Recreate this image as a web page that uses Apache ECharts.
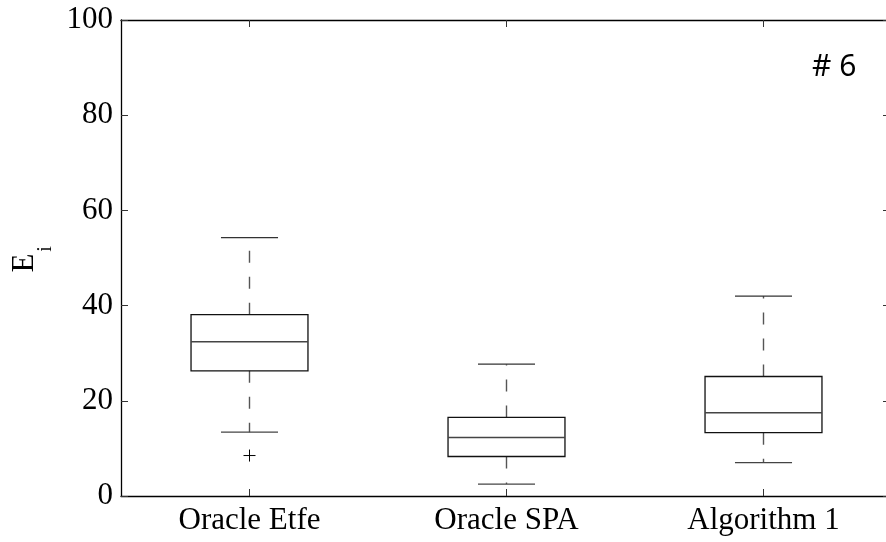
<!DOCTYPE html>
<html>
<head>
<meta charset="utf-8">
<script src="https://cdn.jsdelivr.net/npm/echarts@6/dist/echarts.min.js"></script>
<style>html,body{margin:0;padding:0;background:#fff;overflow:hidden;width:886px;height:542px;}#c{width:900px;height:542px;}</style>
</head>
<body>
<div id="c"></div>
<script>
const categories = ['Oracle Etfe', 'Oracle SPA', 'Algorithm 1'];
const lowerWhisker = [13.4, 2.5, 7.0];
const q1 = [26.3, 8.3, 13.3];
const median = [32.4, 12.3, 17.5];
const q3 = [38.1, 16.5, 25.1];
const upperWhisker = [54.3, 27.7, 42.0];
const outliers = [[0, 8.5]];
const yMin = 0, yMax = 100, yInterval = 20;

const boxData = categories.map((c, i) => [i, lowerWhisker[i], q1[i], median[i], q3[i], upperWhisker[i]]);

const chart = echarts.init(document.getElementById('c'), null, {renderer: 'canvas', width: 900, height: 542});
const serif = 'Liberation Serif';

function renderBox(params, api) {
  const i = api.value(0);
  const band = api.size([1, 0])[0];
  const half = band * 0.2275;
  const capHalf = band * 0.111;
  const pLw = api.coord([i, api.value(1)]);
  const pQ1 = api.coord([i, api.value(2)]);
  const pMed = api.coord([i, api.value(3)]);
  const pQ3 = api.coord([i, api.value(4)]);
  const pUw = api.coord([i, api.value(5)]);
  const cx = Math.floor(pMed[0]) + 0.5;
  const wStyle = {stroke: '#555', lineWidth: 1.4, lineDash: [12, 14]};
  return {
    type: 'group',
    children: [
      {type: 'line', shape: {x1: cx, y1: pQ3[1], x2: cx, y2: pUw[1]}, style: wStyle},
      {type: 'line', shape: {x1: cx, y1: pQ1[1], x2: cx, y2: pLw[1]}, style: wStyle},
      {type: 'line', shape: {x1: cx - capHalf, y1: pUw[1], x2: cx + capHalf, y2: pUw[1]}, style: {stroke: '#333', lineWidth: 1.3}},
      {type: 'line', shape: {x1: cx - capHalf, y1: pLw[1], x2: cx + capHalf, y2: pLw[1]}, style: {stroke: '#444', lineWidth: 1.3}},
      {type: 'rect', shape: {x: cx - half, y: pQ3[1], width: 2 * half, height: pQ1[1] - pQ3[1]}, style: {fill: 'none', stroke: '#111', lineWidth: 1.3}},
      {type: 'line', shape: {x1: cx - half, y1: pMed[1], x2: cx + half, y2: pMed[1]}, style: {stroke: '#444', lineWidth: 1.5}}
    ]
  };
}

function renderOutlier(params, api) {
  const p = api.coord([api.value(0), api.value(1)]);
  const s = 6;
  const x = Math.floor(p[0]) + 0.5;
  return {
    type: 'group',
    children: [
      {type: 'line', shape: {x1: x - s, y1: p[1], x2: x + s, y2: p[1]}, style: {stroke: '#000', lineWidth: 1}},
      {type: 'line', shape: {x1: x, y1: p[1] - s, x2: x, y2: p[1] + s}, style: {stroke: '#000', lineWidth: 1}}
    ]
  };
}

const axisLine = {show: true, onZero: false, lineStyle: {color: '#000', width: 1.3}};
const tick = {show: true, inside: true, length: 7, alignWithLabel: true, lineStyle: {color: '#333', width: 1}};

chart.setOption({
  animation: false,
  backgroundColor: '#fff',
  grid: {left: 121, top: 20, width: 771, height: 476, containLabel: false},
  xAxis: [
    {type: 'category', data: categories, position: 'bottom', boundaryGap: true,
     axisLine: axisLine, axisTick: tick,
     axisLabel: {show: true, color: '#000', fontFamily: serif, fontSize: 31, margin: 9},
     splitLine: {show: false}},
    {type: 'category', data: categories, position: 'top', boundaryGap: true,
     axisLine: axisLine, axisTick: tick, axisLabel: {show: false}, splitLine: {show: false}}
  ],
  yAxis: [
    {type: 'value', min: yMin, max: yMax, interval: yInterval, position: 'left',
     axisLine: axisLine, axisTick: {show: true, inside: true, length: 7, lineStyle: {color: '#333'}},
     axisLabel: {color: '#000', fontFamily: serif, fontSize: 31, margin: 8},
     splitLine: {show: false}},
    {type: 'value', min: yMin, max: yMax, interval: yInterval, position: 'right',
     axisLine: {show: false, onZero: false}, axisTick: {show: true, inside: true, length: 9, lineStyle: {color: '#333'}},
     axisLabel: {show: false}, splitLine: {show: false}}
  ],
  series: [
    {type: 'custom', renderItem: renderBox, data: boxData, encode: {x: 0, y: [1, 2, 3, 4, 5]}, clip: false, z: 3},
    {type: 'custom', renderItem: renderOutlier, data: outliers, encode: {x: 0, y: 1}, clip: false, z: 3}
  ],
  graphic: [
    {type: 'text', x: 25, y: 263, rotation: Math.PI / 2,
     style: {text: 'E', fontFamily: serif, fontSize: 31, fill: '#000', textAlign: 'center', textVerticalAlign: 'middle'}},
    {type: 'text', x: 46, y: 249, rotation: Math.PI / 2,
     style: {text: 'i', fontFamily: serif, fontSize: 20, fill: '#000', textAlign: 'center', textVerticalAlign: 'middle'}},
    {type: 'text', x: 812, y: 67,
     style: {text: '# 6', fontFamily: 'Noto Sans', fontSize: 30, fill: '#000', textAlign: 'left', textVerticalAlign: 'middle'}}
  ]
});
</script>
</body>
</html>
